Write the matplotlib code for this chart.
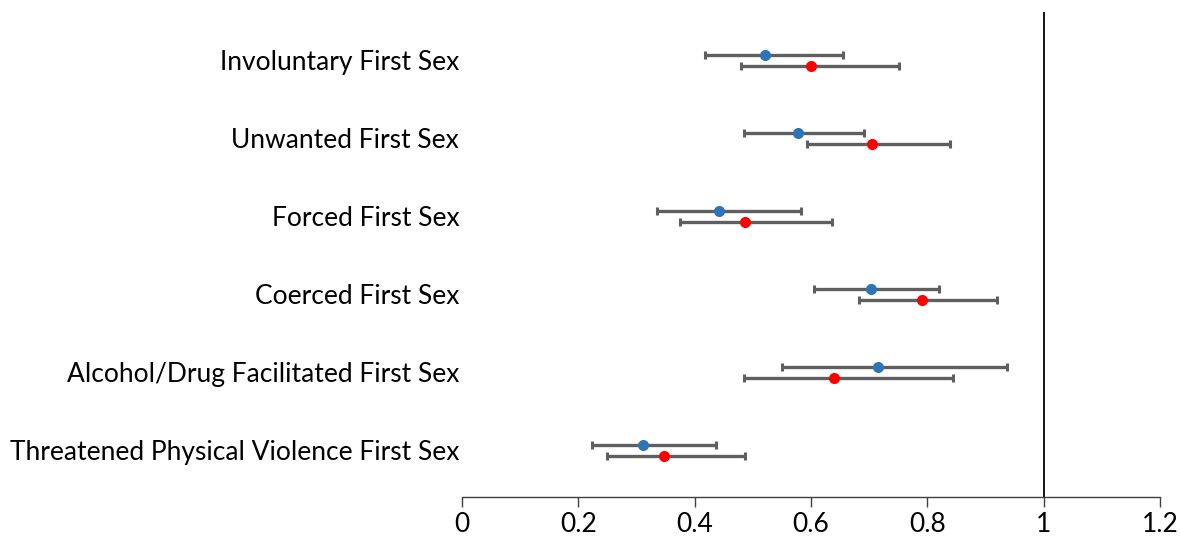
import numpy as np
import matplotlib.pyplot as plt

categories = ['Involuntary First Sex', 'Unwanted First Sex', 'Forced First Sex',
              'Coerced First Sex', 'Alcohol/Drug Facilitated First Sex',
              'Threatened Physical Violence First Sex']

# blue series
blue_est = [0.521, 0.578, 0.442, 0.703, 0.716, 0.312]
blue_lo = [0.418, 0.485, 0.336, 0.605, 0.550, 0.224]
blue_hi = [0.655, 0.691, 0.583, 0.820, 0.937, 0.437]

# red series
red_est = [0.600, 0.705, 0.487, 0.791, 0.640, 0.348]
red_lo = [0.479, 0.594, 0.375, 0.682, 0.485, 0.250]
red_hi = [0.752, 0.839, 0.636, 0.920, 0.845, 0.487]

xticks = [0, 0.2, 0.4, 0.6, 0.8, 1, 1.2]
xticklabels = ['0', '0.2', '0.4', '0.6', '0.8', '1', '1.2']

plt.rcParams['font.family'] = ['Lato', 'DejaVu Sans']

fig = plt.figure(figsize=(11.8, 5.39), dpi=100)
ax = fig.add_axes([0.3915, 0.078, 0.5915, 0.8998])

pos = np.arange(len(categories))
off = 0.072


def draw(est, lo, hi, y, color):
    est = np.array(est)
    err = [est - np.array(lo), np.array(hi) - est]
    ax.errorbar(est, y, xerr=err, fmt='none', ecolor='#5f5f5f',
                elinewidth=2.4, capsize=2.8, capthick=2.2, zorder=2)
    ax.plot(est, y, 'o', color=color, markersize=8, zorder=3, markeredgewidth=0)


draw(blue_est, blue_lo, blue_hi, pos - off, '#2e75b6')
draw(red_est, red_lo, red_hi, pos + off, '#ff0000')

ax.axvline(1, color='black', linewidth=1.3, zorder=1)

ax.set_xlim(0, 1.2)
ax.set_ylim(5.6, -0.62)
ax.set_xticks(xticks)
ax.set_xticklabels(xticklabels, fontsize=19)
ax.set_yticks(pos)
ax.set_yticklabels(categories, fontsize=19)
ax.tick_params(axis='y', length=0, pad=2)
ax.tick_params(axis='x', length=7, width=1, color='#404040', pad=4)

for s in ['top', 'right', 'left']:
    ax.spines[s].set_visible(False)
ax.spines['bottom'].set_color('#404040')
ax.spines['bottom'].set_linewidth(1)

fig.savefig('out.png', dpi=100)
